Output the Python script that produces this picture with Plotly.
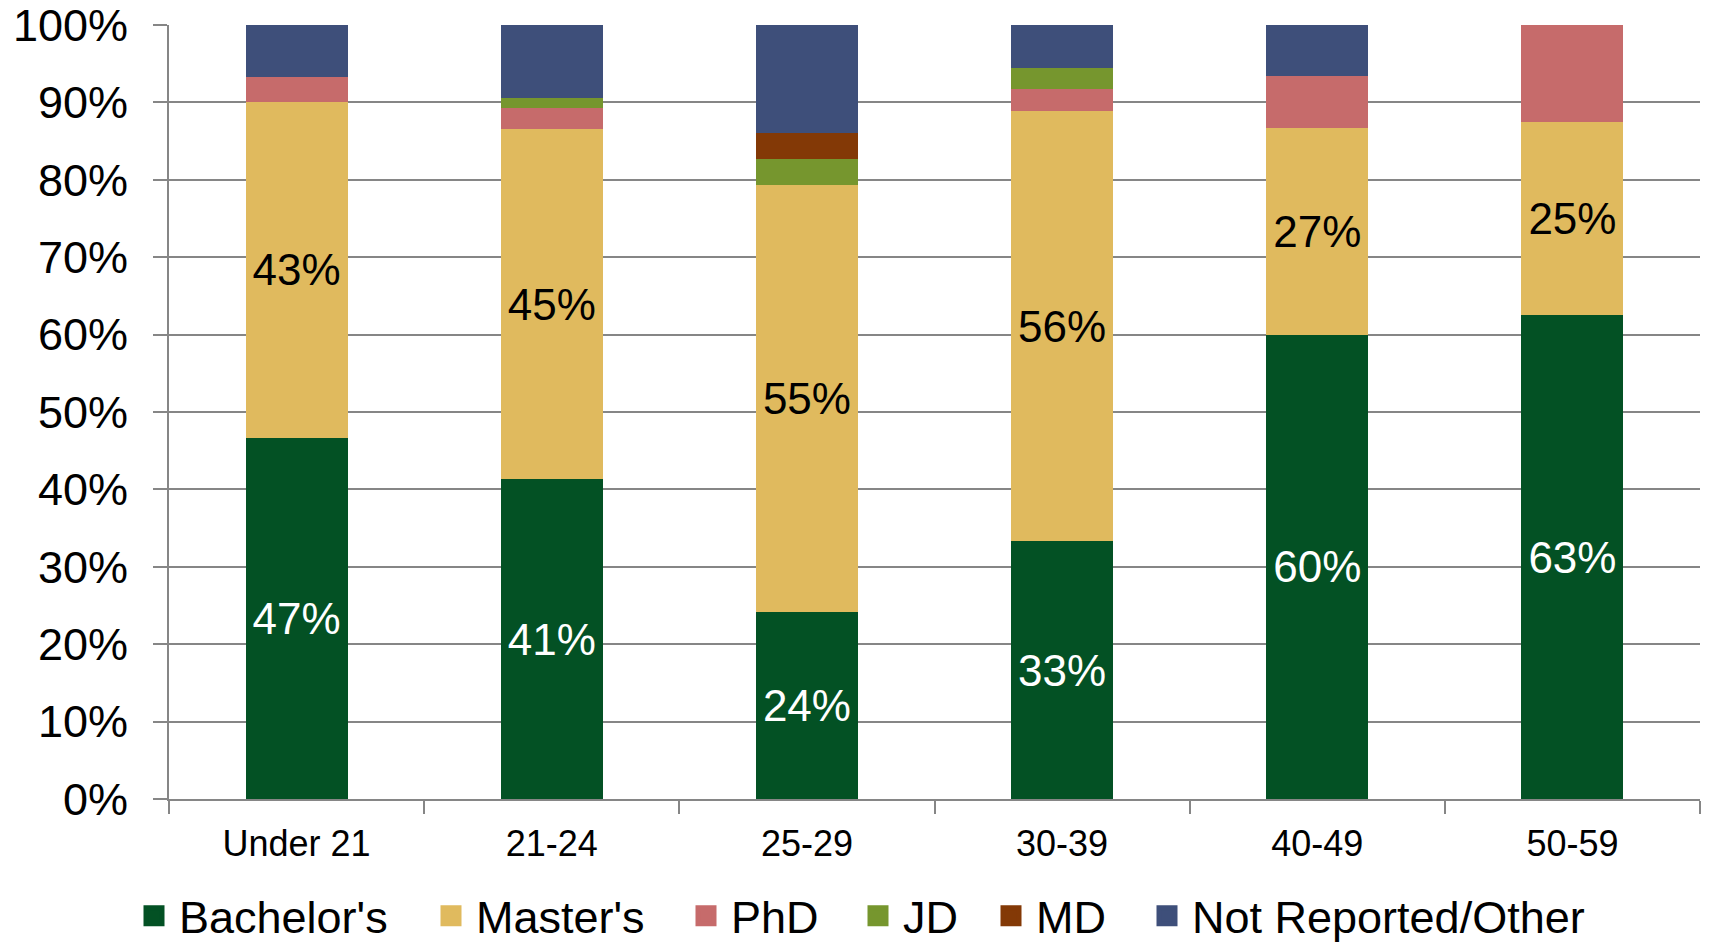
import plotly.graph_objects as go

age_groups = ["Under 21", "21-24", "25-29", "30-39", "40-49", "50-59"]

# share of each degree within an age group, in percent
bachelors = [46.7, 41.3, 24.1, 33.3, 60.0, 62.5]
masters = [43.3, 45.3, 55.2, 55.6, 26.7, 25.0]
phd = [3.3, 2.7, 0.0, 2.8, 6.7, 12.5]
jd = [0.0, 1.3, 3.4, 2.8, 0.0, 0.0]
md = [0.0, 0.0, 3.4, 0.0, 0.0, 0.0]
not_reported = [6.7, 9.4, 13.9, 5.5, 6.6, 0.0]

series = [
    ("Bachelor's", bachelors, "#035124", "white"),
    ("Master's", masters, "#E0BA5E", "black"),
    ("PhD", phd, "#C66B6B", None),
    ("JD", jd, "#76962E", None),
    ("MD", md, "#833906", None),
    ("Not Reported/Other", not_reported, "#3E4F7A", None),
]

# left edge (px) of each legend entry along the bottom
legend_left = [121, 418, 673, 845, 978, 1134]

FONT = "Liberation Sans, Arial, sans-serif"
# page body adds an 8px offset, so the figure is drawn 8px smaller
W, H = 1701, 935

fig = go.Figure()
for name, vals, color, txtcolor in series:
    kw = {}
    if txtcolor:
        kw = dict(texttemplate="%{y:.0f}%", textposition="inside",
                  insidetextanchor="middle", constraintext="none",
                  textfont=dict(size=44, color=txtcolor, family=FONT))
    fig.add_trace(go.Bar(x=age_groups, y=vals, name=name, showlegend=False,
                         marker=dict(color=color, line=dict(width=0)),
                         hoverinfo="skip", **kw))

# legend entries: bigger square swatches than the bar default, one legend each
for i, (name, vals, color, txtcolor) in enumerate(series):
    lg = "legend" if i == 0 else f"legend{i + 1}"
    fig.add_trace(go.Scatter(x=[None], y=[None], mode="markers", name=name, legend=lg,
                             marker=dict(symbol="square", size=16, color=color,
                                         line=dict(color=color, width=8))))
    fig.update_layout({lg: dict(orientation="h", xref="container", yref="container",
                                x=legend_left[i] / W, xanchor="left",
                                y=1 - 908 / H, yanchor="middle",
                                itemsizing="trace", itemwidth=40,
                                font=dict(size=45), bgcolor="rgba(0,0,0,0)")})

fig.update_layout(
    barmode="stack",
    bargap=0.6,
    width=W, height=H,
    plot_bgcolor="white",
    paper_bgcolor="white",
    font=dict(family=FONT, color="black"),
    margin=dict(l=161, r=9, t=17, b=144, autoexpand=False),
    showlegend=True,
)
fig.update_xaxes(
    type="category",
    tickson="boundaries",
    ticks="outside", ticklen=13, tickcolor="#868686", tickwidth=2,
    showline=True, linecolor="#868686", linewidth=2,
    showgrid=False, automargin=False,
    ticklabelstandoff=12,
    tickfont=dict(size=36),
)
fig.update_yaxes(
    range=[0, 100], dtick=10, ticksuffix="%",
    ticks="outside", ticklen=14, tickcolor="#868686", tickwidth=2,
    showline=True, linecolor="#868686", linewidth=2,
    showgrid=True, gridcolor="#868686", gridwidth=2,
    zeroline=False, automargin=False,
    ticklabelstandoff=16, ticklabeloverflow="allow",
    tickfont=dict(size=45),
)

fig.write_html("out.html")
